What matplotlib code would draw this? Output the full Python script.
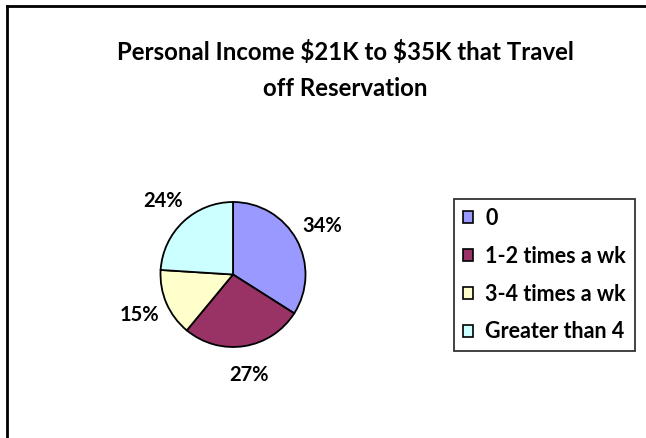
import matplotlib
matplotlib.use("Agg")
import matplotlib.pyplot as plt
from matplotlib.patches import Rectangle
from matplotlib.lines import Line2D

# data
categories = ['0', '1-2 times a wk', '3-4 times a wk', 'Greater than 4']
shares = [34, 27, 15, 24]
colors = ['#9999FF', '#993366', '#FFFFCC', '#CCFFFF']
title_lines = [r'Personal Income \$21K to \$35K that Travel', 'off Reservation']

W, H = 646, 438
plt.rcParams['font.family'] = ['Lato', 'DejaVu Sans']
fig = plt.figure(figsize=(W / 100, H / 100), dpi=100)

# outer chart frame (only top and left edges are in view)
fig.add_artist(Line2D([6.5 / W, 6.5 / W], [0, 1 - 5.5 / H], transform=fig.transFigure,
                      color='black', lw=2))
fig.add_artist(Line2D([6.5 / W, 1], [1 - 5.5 / H, 1 - 5.5 / H], transform=fig.transFigure,
                      color='black', lw=2))

# title
fig.text(345 / W, 1 - 52 / H, title_lines[0], ha='center', va='center',
         fontsize=17.3, fontweight='bold')
fig.text(345 / W, 1 - 88 / H, title_lines[1], ha='center', va='center',
         fontsize=17.3, fontweight='bold')

# pie axes: centre (233, 274.5) px, radius 72.5 px
cx, cy, r, half = 233, 274.5, 72.5, 110
ax = fig.add_axes([(cx - half) / W, (H - cy - half) / H, 2 * half / W, 2 * half / H])
ax.pie(shares, colors=colors, startangle=90, counterclock=False,
       autopct='%1.0f%%', pctdistance=1.4,
       wedgeprops=dict(edgecolor='black', linewidth=1.3),
       textprops=dict(fontsize=14.5, fontweight='bold'))
lim = half / r
ax.set_xlim(-lim, lim)
ax.set_ylim(-lim, lim)
ax.set_aspect('equal')
ax.axis('off')

# legend
handles = [Rectangle((0, 0), 1, 1, facecolor=c, edgecolor='black', linewidth=1.2)
           for c in colors]
leg = fig.legend(handles, categories, loc='upper left',
                 bbox_to_anchor=(454 / W, 1 - 199 / H),
                 frameon=True, fancybox=False,
                 prop=dict(size=15.5, weight='bold'),
                 handlelength=0.48, handleheight=0.48, handletextpad=0.55,
                 labelspacing=0.78, borderpad=0.42, borderaxespad=0)
leg.get_frame().set_edgecolor('black')
leg.get_frame().set_linewidth(1.3)

fig.savefig('out.png', dpi=100)
